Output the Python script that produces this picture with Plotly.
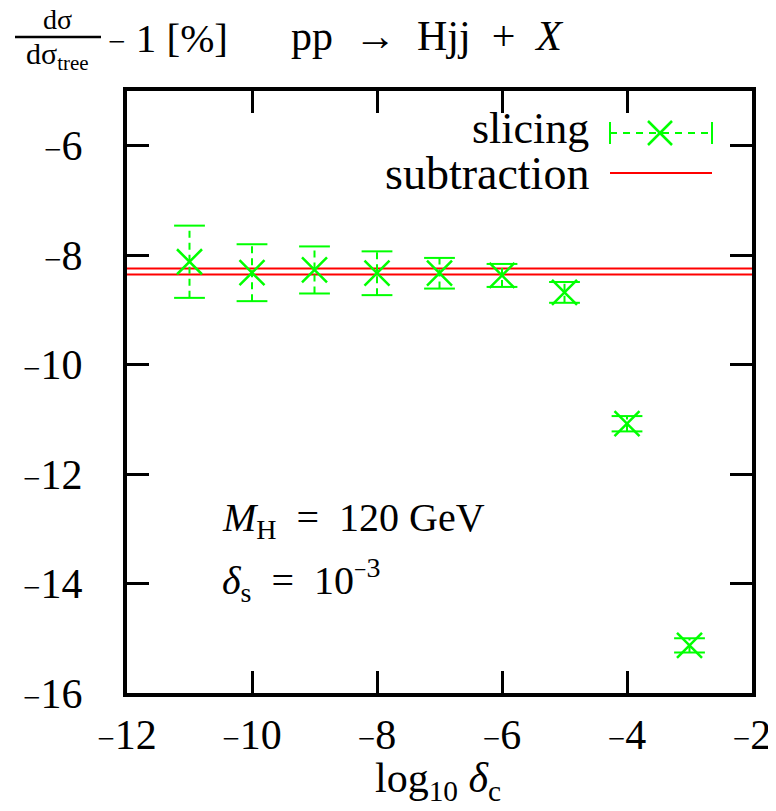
import plotly.graph_objects as go

# ---- data ----
log_dc = [-11, -10, -9, -8, -7, -6, -5, -4, -3]
slicing = [-8.12, -8.32, -8.27, -8.33, -8.33, -8.37, -8.68, -11.08, -15.13]
slicing_err = [0.66, 0.52, 0.43, 0.40, 0.28, 0.21, 0.19, 0.14, 0.13]
subtraction = -8.30
subtraction_err = 0.055
x_range = [-12, -2]
y_range = [-16, -5]
x_ticks = [-12, -10, -8, -6, -4, -2]
y_ticks = [-16, -14, -12, -10, -8, -6]

GREEN = "#00ff00"
RED = "#ff0000"
FONT = "Liberation Serif"
MINUS = '<span style="font-size:31px">−</span>'


def tick_label(v):
    return (MINUS + str(abs(v))) if v < 0 else str(v)


OFF = 8  # default page body margin
W, H = 776 - OFF, 811 - OFF
L, R, T, B = 119, 24, 83, 118
# plot area in page coordinates
X0, X1, Y0, Y1 = L + OFF, W - R + OFF, T + OFF, H - B + OFF


def px(x):
    return (x - X0) / (X1 - X0)


def py(y):
    return (Y1 - y) / (Y1 - Y0)


fig = go.Figure()

# subtraction band (two edges)
for sgn in (1, -1):
    fig.add_trace(go.Scatter(
        x=x_range, y=[subtraction + sgn * subtraction_err] * 2,
        mode="lines", line=dict(color=RED, width=2), showlegend=False,
        hoverinfo="skip"))

# dashed vertical error bars
ex, ey = [], []
for x, y, e in zip(log_dc, slicing, slicing_err):
    ex += [x, x, None]
    ey += [y - e, y + e, None]
fig.add_trace(go.Scatter(
    x=ex, y=ey, mode="lines",
    line=dict(color=GREEN, width=2, dash="7px,5px"),
    showlegend=False, hoverinfo="skip"))

# error bar caps
cx = log_dc + log_dc
cy = [y - e for y, e in zip(slicing, slicing_err)] + \
     [y + e for y, e in zip(slicing, slicing_err)]
fig.add_trace(go.Scatter(
    x=cx, y=cy, mode="markers",
    marker=dict(symbol="line-ew", size=22, line=dict(color=GREEN, width=2)),
    showlegend=False, hoverinfo="skip"))

# points
fig.add_trace(go.Scatter(
    x=log_dc, y=slicing, mode="markers",
    marker=dict(symbol="x-thin", size=25, line=dict(color=GREEN, width=2.5)),
    showlegend=False))

axis_common = dict(
    ticks="inside", ticklen=22, tickwidth=3, tickcolor="black",
    linewidth=4, linecolor="black", mirror="allticks", showline=True,
    showgrid=False, zeroline=False, automargin=False,
    tickfont=dict(family=FONT, size=42, color="black"),
)
fig.update_xaxes(range=x_range, tickvals=x_ticks,
                 ticktext=[tick_label(v) for v in x_ticks],
                 ticklabelstandoff=2, **axis_common)
fig.update_yaxes(range=y_range, tickvals=y_ticks,
                 ticktext=[tick_label(v) for v in y_ticks],
                 ticklabelstandoff=32, **axis_common)

shapes = []
annotations = []


def text(x, y, s, size=40, xanchor="center"):
    annotations.append(dict(
        x=px(x), y=py(y), xref="paper", yref="paper", text=s, showarrow=False,
        xanchor=xanchor, yanchor="middle",
        font=dict(family=FONT, size=size, color="black")))


def seg(x0, y0, x1, y1, color, width, dash="solid"):
    shapes.append(dict(
        type="line", xref="paper", yref="paper",
        x0=px(x0), y0=py(y0), x1=px(x1), y1=py(y1),
        line=dict(color=color, width=width, dash=dash)))


# header: fraction
text(57, 20, "dσ", size=28)
seg(15, 37, 101, 37, "black", 2.5)
text(57, 56, "dσ<sub>tree</sub>", size=30)
text(106, 38, '<span style="font-size:31px">−</span> 1 [%]', size=41, xanchor="left")
text(289, 36, "pp  →  Hjj  +  <i>X</i>", size=42, xanchor="left")

# x-axis title
text(438, 781, "log<sub>10</sub> <i>δ</i><sub>c</sub>", size=42)

# in-plot labels
text(220, 520, "<i>M</i><sub>H</sub>  =  120 GeV", size=40, xanchor="left")
text(220, 580, '<i>δ</i><sub>s</sub>  =  10<sup><span style="font-size:22px">−</span>3</sup>',
     size=40, xanchor="left")

# legend (custom, text right of sample)
text(591, 128, "slicing", size=44, xanchor="right")
text(591, 174, "subtraction", size=46, xanchor="right")
seg(610, 133, 712, 133, GREEN, 2, dash="7px,6px")
seg(610, 122, 610, 144, GREEN, 2)
seg(712, 122, 712, 144, GREEN, 2)
seg(648, 121, 672, 145, GREEN, 2.5)
seg(648, 145, 672, 121, GREEN, 2.5)
seg(610, 173, 712, 173, RED, 2)

fig.update_layout(
    width=W, height=H,
    margin=dict(l=L, r=R, t=T, b=B, pad=0),
    plot_bgcolor="white", paper_bgcolor="white",
    showlegend=False,
    shapes=shapes, annotations=annotations,
)

fig.write_html("out.html")
